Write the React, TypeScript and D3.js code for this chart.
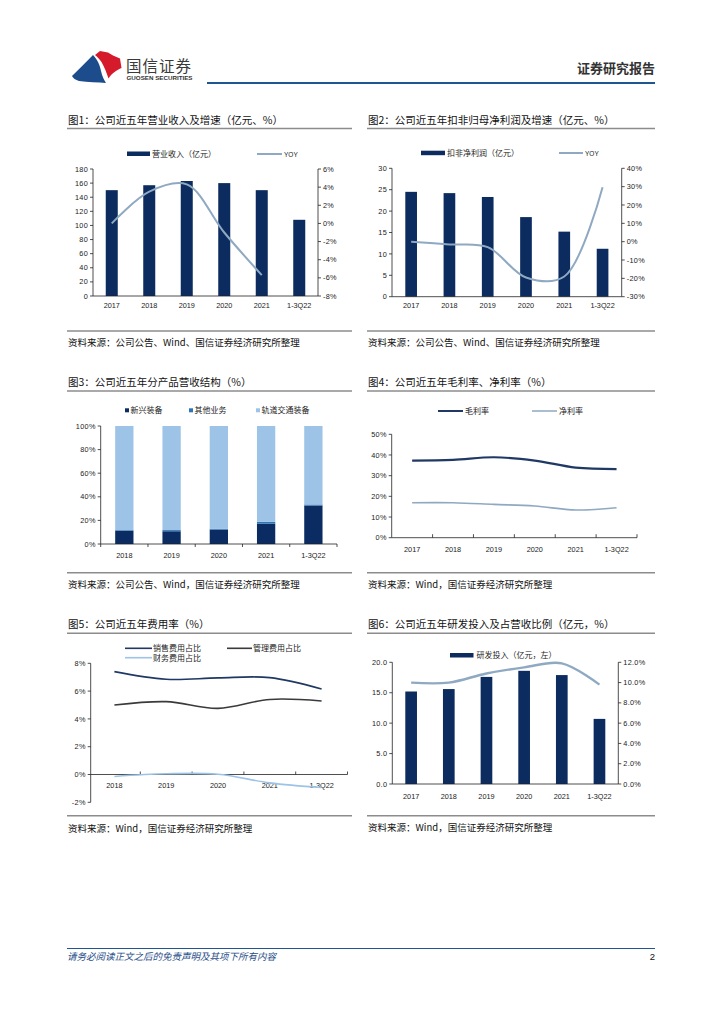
import React from 'react';
import * as d3 from 'd3';

// ---------- data ----------
const years6 = ['2017', '2018', '2019', '2020', '2021', '1-3Q22'];
const years5 = ['2018', '2019', '2020', '2021', '1-3Q22'];

const revenue = [150, 157, 163, 160, 150, 108];
const revenueYoy = [0, 3.5, 4.3, -1.0, -5.7];

const profit = [24.5, 24.2, 23.3, 18.6, 15.2, 11.2];
const profitYoy = [0, -1.5, -3.0, -19.5, -19.0, 29.7];

const shareNew = [11.3, 10.8, 12.2, 17.2, 32.6];
const shareOther = [0.5, 1.0, 0.6, 1.6, 0.9];
const shareRail = [88.2, 88.2, 87.2, 81.2, 66.5];

const grossMargin = [37.3, 37.6, 38.9, 37.3, 33.9, 33.2];
const netMargin = [16.9, 16.9, 16.1, 15.3, 13.4, 14.5];

const salesExp = [7.4, 6.85, 6.95, 6.97, 6.15];
const adminExp = [5.0, 5.24, 4.76, 5.4, 5.29];
const finExp = [-0.14, 0.05, 0.02, -0.6, -0.94];

const rdSpend = [15.2, 15.6, 17.6, 18.6, 17.9, 10.7];
const rdRatio = [10.0, 10.0, 10.9, 11.5, 11.9, 9.8];

const revTicks = [0, 20, 40, 60, 80, 100, 120, 140, 160, 180];
const revYoyTicks = [-8, -6, -4, -2, 0, 2, 4, 6];
const profitTicks = [0, 5, 10, 15, 20, 25, 30];
const profitYoyTicks = [-30, -20, -10, 0, 10, 20, 30, 40];
const shareTicks = [0, 20, 40, 60, 80, 100];
const marginTicks = [0, 10, 20, 30, 40, 50];
const expTicks = [-2, 0, 2, 4, 6, 8];
const rdTicks = [0, 5, 10, 15, 20];
const rdRatioTicks = [0, 2, 4, 6, 8, 10, 12];

// ---------- styles ----------
const CJK = '"Noto Sans CJK SC", "Noto Sans", sans-serif';
const LAT = '"Liberation Sans", Arial, sans-serif';
const NAVY = '#0c2b5e';
const GREYBLUE = '#8fa9c2';
const AXIS = '#222';

type Scale = d3.ScaleLinear<number, number>;

function YAxis({ scale, x, ticks, fmt, side }: { scale: Scale; x: number; ticks: number[]; fmt: (v: number) => string; side: 'left' | 'right' }) {
  const r = scale.range();
  const dir = side === 'left' ? -1 : 1;
  return (
    <g>
      <line x1={x} x2={x} y1={r[0]} y2={r[1]} stroke={AXIS} strokeWidth={0.8} />
      {ticks.map((t) => (
        <g key={t}>
          <line x1={x} x2={x + dir * 3} y1={scale(t)} y2={scale(t)} stroke={AXIS} strokeWidth={0.8} />
          <text
            x={x + dir * 5}
            y={scale(t) + 2.6}
            fontSize={7.3}
            fontFamily={LAT}
            letterSpacing={0.3}
            textAnchor={side === 'left' ? 'end' : 'start'}
            fill="#222"
          >
            {fmt(t)}
          </text>
        </g>
      ))}
    </g>
  );
}

function XLabels({ band, y }: { band: d3.ScaleBand<string>; y: number }) {
  return (
    <g>
      {band.domain().map((d) => (
        <text key={d} x={(band(d) as number) + band.bandwidth() / 2} y={y} fontSize={7.3} fontFamily={LAT} textAnchor="middle" fill="#222">
          {d}
        </text>
      ))}
    </g>
  );
}

function XTicks({ band, y, len }: { band: d3.ScaleBand<string>; y: number; len: number }) {
  const step = band.step();
  const start = band.range()[0];
  const n = band.domain().length;
  return (
    <g>
      {d3.range(1, n + 1).map((i) => (
        <line key={i} x1={start + i * step} x2={start + i * step} y1={y} y2={y + len} stroke={AXIS} strokeWidth={0.8} />
      ))}
    </g>
  );
}

function Frame({ x1, x2, titleY, lineY, title, srcLineY, srcY, source }: any) {
  return (
    <g>
      <text x={x1 + 1} y={titleY} fontSize={10.5} fontFamily={CJK} fill="#111">
        {title}
      </text>
      <line x1={x1} x2={x2} y1={lineY} y2={lineY} stroke="#8c8c8c" strokeWidth={1.4} />
      <line x1={x1} x2={x2} y1={srcLineY} y2={srcLineY} stroke="#8c8c8c" strokeWidth={1.4} />
      <text x={x1 + 1} y={srcY} fontSize={9.5} fontFamily={CJK} fill="#111">
        {source}
      </text>
    </g>
  );
}

const smooth = d3.curveCatmullRom.alpha(0.5);

function linePath(band: d3.ScaleBand<string>, ys: Scale, cats: string[], vals: number[]) {
  const g = d3
    .line<number>()
    .x((_, i) => (band(cats[i]) as number) + band.bandwidth() / 2)
    .y((v) => ys(v))
    .curve(smooth);
  return g(vals) || '';
}

function Chart1() {
  const band = d3.scaleBand<string>().domain(years6).range([93, 318]).paddingInner(0.68).paddingOuter(0.34);
  const yL = d3.scaleLinear().domain([0, 180]).range([296, 169]);
  const yR = d3.scaleLinear().domain([-8, 6]).range([296, 169]);
  return (
    <g>
      <Frame x1={67} x2={352} titleY={124} lineY={128.5} title="图1：公司近五年营业收入及增速（亿元、%）" srcLineY={331} srcY={346} source="资料来源：公司公告、Wind、国信证券经济研究所整理" />
      <rect x={127} y={151.5} width={23} height={4.5} fill={NAVY} />
      <text x={152} y={156.5} fontSize={8} fontFamily={CJK} fill="#222">营业收入（亿元）</text>
      <line x1={257} x2={282} y1={154} y2={154} stroke={GREYBLUE} strokeWidth={2} />
      <text x={284} y={156.5} fontSize={6.5} fontFamily={LAT} fill="#222">YOY</text>
      {years6.map((d, i) => (
        <rect key={d} x={band(d)} y={yL(revenue[i])} width={band.bandwidth()} height={yL(0) - yL(revenue[i])} fill={NAVY} />
      ))}
      <line x1={93} x2={318} y1={296} y2={296} stroke={AXIS} strokeWidth={0.8} />
      <YAxis scale={yL} x={93} ticks={revTicks} fmt={(v) => String(v)} side="left" />
      <YAxis scale={yR} x={318} ticks={revYoyTicks} fmt={(v) => `${v}%`} side="right" />
      <path d={linePath(band, yR, years6, revenueYoy)} fill="none" stroke={GREYBLUE} strokeWidth={2} />
      <XLabels band={band} y={308} />
    </g>
  );
}

function Chart2() {
  const band = d3.scaleBand<string>().domain(years6).range([392, 621.7]).paddingInner(0.695).paddingOuter(0.3475);
  const yL = d3.scaleLinear().domain([0, 30]).range([296.7, 168.3]);
  const yR = d3.scaleLinear().domain([-30, 40]).range([296.7, 168.3]);
  return (
    <g>
      <Frame x1={367} x2={655} titleY={124} lineY={128.5} title="图2：公司近五年扣非归母净利润及增速（亿元、%）" srcLineY={331} srcY={346} source="资料来源：公司公告、Wind、国信证券经济研究所整理" />
      <rect x={421} y={150.7} width={24} height={4.5} fill={NAVY} />
      <text x={447} y={155.8} fontSize={8} fontFamily={CJK} fill="#222">扣非净利润（亿元）</text>
      <line x1={559} x2={583} y1={153} y2={153} stroke={GREYBLUE} strokeWidth={2} />
      <text x={585} y={155.5} fontSize={6.5} fontFamily={LAT} fill="#222">YOY</text>
      {years6.map((d, i) => (
        <rect key={d} x={band(d)} y={yL(profit[i])} width={band.bandwidth()} height={yL(0) - yL(profit[i])} fill={NAVY} />
      ))}
      <line x1={392} x2={621.7} y1={296.7} y2={296.7} stroke={AXIS} strokeWidth={0.8} />
      <YAxis scale={yL} x={392} ticks={profitTicks} fmt={(v) => String(v)} side="left" />
      <YAxis scale={yR} x={621.7} ticks={profitYoyTicks} fmt={(v) => `${v}%`} side="right" />
      <path d={linePath(band, yR, years6, profitYoy)} fill="none" stroke={GREYBLUE} strokeWidth={2} />
      <XLabels band={band} y={308} />
    </g>
  );
}

function Chart3() {
  const band = d3.scaleBand<string>().domain(years5).range([100.7, 337]).paddingInner(0.613).paddingOuter(0.3065);
  const y = d3.scaleLinear().domain([0, 100]).range([544, 426]);
  const stack = years5.map((d, i) => ({ d, parts: [shareNew[i], shareOther[i], shareRail[i]] }));
  const colors = ['#0a2c62', '#2e75b6', '#9dc3e6'];
  const names = ['新兴装备', '其他业务', '轨道交通装备'];
  const legX = [125, 189, 256];
  return (
    <g>
      <Frame x1={67} x2={352} titleY={386} lineY={391} title="图3：公司近五年分产品营收结构（%）" srcLineY={572.7} srcY={587.5} source="资料来源：公司公告、Wind，国信证券经济研究所整理" />
      {names.map((n, i) => (
        <g key={n}>
          <rect x={legX[i]} y={408.3} width={4} height={4} fill={colors[i]} />
          <text x={legX[i] + 5.5} y={413.3} fontSize={8} fontFamily={CJK} fill="#222">{n}</text>
        </g>
      ))}
      {stack.map(({ d, parts }) => {
        let acc = 0;
        return parts.map((p, j) => {
          const y0 = acc;
          acc += p;
          return <rect key={d + j} x={band(d)} y={y(acc)} width={band.bandwidth()} height={y(y0) - y(acc)} fill={colors[j]} />;
        });
      })}
      <line x1={100.7} x2={337} y1={544} y2={544} stroke={AXIS} strokeWidth={0.8} />
      <XTicks band={band} y={544} len={3} />
      <line x1={100.7} x2={100.7} y1={544} y2={547} stroke={AXIS} strokeWidth={0.8} />
      <YAxis scale={y} x={100.7} ticks={shareTicks} fmt={(v) => `${v}%`} side="left" />
      <XLabels band={band} y={557.5} />
    </g>
  );
}

function Chart4() {
  const band = d3.scaleBand<string>().domain(years6).range([391.7, 637]);
  const y = d3.scaleLinear().domain([0, 50]).range([537.7, 434.3]);
  return (
    <g>
      <Frame x1={367} x2={655} titleY={386} lineY={391} title="图4：公司近五年毛利率、净利率（%）" srcLineY={572.7} srcY={587.5} source="资料来源：Wind，国信证券经济研究所整理" />
      <line x1={438} x2={463} y1={411} y2={411} stroke="#1f3864" strokeWidth={2} />
      <text x={465} y={414} fontSize={8} fontFamily={CJK} fill="#222">毛利率</text>
      <line x1={532} x2={557} y1={411} y2={411} stroke={GREYBLUE} strokeWidth={1.5} />
      <text x={559} y={414} fontSize={8} fontFamily={CJK} fill="#222">净利率</text>
      <line x1={391.7} x2={637} y1={537.7} y2={537.7} stroke={AXIS} strokeWidth={0.8} />
      <XTicks band={band} y={537.7} len={-3.5} />
      <YAxis scale={y} x={391.7} ticks={marginTicks} fmt={(v) => `${v}%`} side="left" />
      <path d={linePath(band, y, years6, grossMargin)} fill="none" stroke="#1f3864" strokeWidth={2.2} />
      <path d={linePath(band, y, years6, netMargin)} fill="none" stroke={GREYBLUE} strokeWidth={1.6} />
      <XLabels band={band} y={552} />
    </g>
  );
}

function Chart5() {
  const band = d3.scaleBand<string>().domain(years5).range([88.5, 347.5]);
  const y = d3.scaleLinear().domain([-2, 8]).range([802.3, 663.3]);
  return (
    <g>
      <Frame x1={67} x2={352} titleY={628} lineY={633.3} title="图5：公司近五年费用率（%）" srcLineY={815.7} srcY={831.5} source="资料来源：Wind，国信证券经济研究所整理" />
      <line x1={125} x2={152} y1={648.3} y2={648.3} stroke="#203864" strokeWidth={1.6} />
      <text x={153} y={651.3} fontSize={8} fontFamily={CJK} fill="#222">销售费用占比</text>
      <line x1={227} x2={252} y1={648.3} y2={648.3} stroke="#3a3a3a" strokeWidth={1.6} />
      <text x={253} y={651.3} fontSize={8} fontFamily={CJK} fill="#222">管理费用占比</text>
      <line x1={125} x2={152} y1={657.7} y2={657.7} stroke="#9dc3e6" strokeWidth={1.6} />
      <text x={153} y={660.7} fontSize={8} fontFamily={CJK} fill="#222">财务费用占比</text>
      <line x1={90.7} x2={347.5} y1={y(0)} y2={y(0)} stroke={AXIS} strokeWidth={0.8} />
      <XTicks band={band} y={y(0)} len={-3} />
      <YAxis scale={y} x={90.7} ticks={expTicks} fmt={(v) => `${v}%`} side="left" />
      <XLabels band={band} y={788} />
      <path d={linePath(band, y, years5, salesExp)} fill="none" stroke="#203864" strokeWidth={1.6} />
      <path d={linePath(band, y, years5, adminExp)} fill="none" stroke="#3a3a3a" strokeWidth={1.6} />
      <path d={linePath(band, y, years5, finExp)} fill="none" stroke="#9dc3e6" strokeWidth={1.6} />
    </g>
  );
}

function Chart6() {
  const band = d3.scaleBand<string>().domain(years6).range([392.3, 618.3]).paddingInner(0.69).paddingOuter(0.345);
  const yL = d3.scaleLinear().domain([0, 20]).range([784, 662.3]);
  const yR = d3.scaleLinear().domain([0, 12]).range([784, 662.3]);
  return (
    <g>
      <Frame x1={367} x2={655} titleY={628} lineY={633.3} title="图6：公司近五年研发投入及占营收比例（亿元，%）" srcLineY={815.7} srcY={831} source="资料来源：Wind，国信证券经济研究所整理" />
      <rect x={450} y={653} width={23.5} height={4.5} fill={NAVY} />
      <text x={476.5} y={658} fontSize={8} fontFamily={CJK} fill="#222">研发投入（亿元，左）</text>
      {years6.map((d, i) => (
        <rect key={d} x={band(d)} y={yL(rdSpend[i])} width={band.bandwidth()} height={yL(0) - yL(rdSpend[i])} fill={NAVY} />
      ))}
      <line x1={392.3} x2={618.3} y1={784} y2={784} stroke={AXIS} strokeWidth={0.8} />
      <YAxis scale={yL} x={392.3} ticks={rdTicks} fmt={(v) => v.toFixed(1)} side="left" />
      <YAxis scale={yR} x={618.3} ticks={rdRatioTicks} fmt={(v) => `${v.toFixed(1)}%`} side="right" />
      <path d={linePath(band, yR, years6, rdRatio)} fill="none" stroke={GREYBLUE} strokeWidth={2.4} />
      <XLabels band={band} y={798.5} />
    </g>
  );
}

function Header() {
  return (
    <g>
      <path d="M72,76 C78,70 86,62 93,55 C98,60 100,66 101,71 C102,76 104,80 106,83 C98,82.5 88,82 79,81 C75.5,80 73,78 72,76 Z" fill="#1c4c8c" />
      <path d="M95,55 L100,51 L108,52.5 L113,55.5 L120,58.5 L121.5,68 C117,70 112,73 108.5,78.5 C106.5,73 104.5,67 101.5,62 C99.5,59 97.5,57 95,55 Z" fill="#d51a2b" />
      <text x={126} y={71.5} fontSize={15.5} fontFamily={CJK} fill="#3a3a3a" letterSpacing={1}>国信证券</text>
      <text x={126.5} y={79.8} fontSize={5.6} fontFamily={LAT} fontWeight="bold" fill="#333" textLength={66} lengthAdjust="spacingAndGlyphs">GUOSEN SECURITIES</text>
      <text x={655} y={73} fontSize={13} fontFamily={CJK} fontWeight="bold" fill="#333" textAnchor="end">证券研究报告</text>
      <line x1={207} x2={655} y1={83} y2={83} stroke="#1f5591" strokeWidth={2} />
    </g>
  );
}

function Footer() {
  return (
    <g>
      <line x1={67} x2={655} y1={948.5} y2={948.5} stroke="#1f5591" strokeWidth={1} />
      <text x={67} y={960} fontSize={9.5} fontFamily={CJK} fontStyle="italic" fill="#1f4e89" transform="skewX(0)">
        请务必阅读正文之后的免责声明及其项下所有内容
      </text>
      <text x={655} y={960} fontSize={9.5} fontFamily={LAT} fill="#111" textAnchor="end">2</text>
    </g>
  );
}

export default function App() {
  return (
    <svg width={724} height={1024} viewBox="0 0 724 1024" style={{ position: 'absolute', left: 0, top: 0, background: '#fff' }}>
      <rect x={0} y={0} width={724} height={1024} fill="#fff" />
      <Header />
      <Chart1 />
      <Chart2 />
      <Chart3 />
      <Chart4 />
      <Chart5 />
      <Chart6 />
      <Footer />
    </svg>
  );
}
